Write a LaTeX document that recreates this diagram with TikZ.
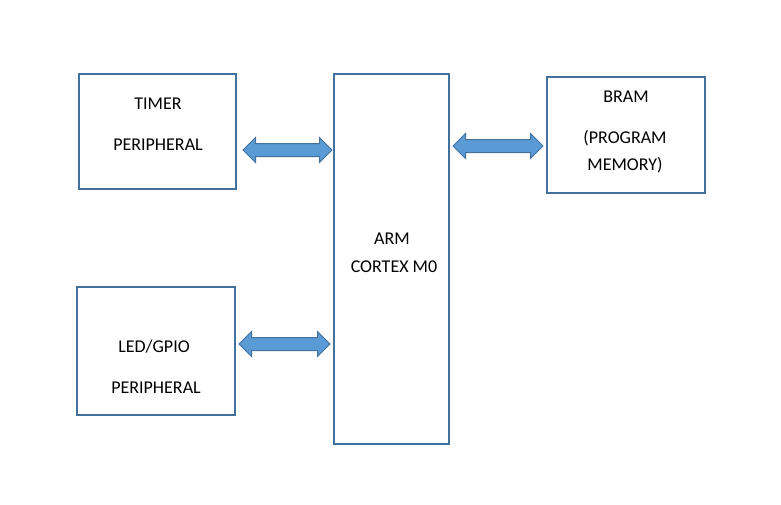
\documentclass[tikz,border=0pt]{standalone}
\usepackage{fontspec}
\setmainfont{Carlito}
\usetikzlibrary{shapes.arrows,calc}
\definecolor{boxline}{RGB}{65,113,156}
\definecolor{arrfill}{RGB}{91,155,213}
\tikzset{
  blk/.style={draw=boxline, line width=0.9pt, rectangle, inner sep=0pt},
  dblarrow/.style={double arrow, draw=boxline, fill=arrfill, line width=0.75pt, inner xsep=0pt, inner ysep=4.5pt,
    minimum width=18pt, double arrow head extend=4.5pt, double arrow tip angle=90},
  lbl/.style={font=\fontsize{13.5}{15}\selectfont, inner sep=0pt, text height=8.7pt, text depth=0pt}
}
\begin{document}
\begin{tikzpicture}[x=0.75pt,y=0.75pt,yscale=-1,xscale=1]
\useasboundingbox (0,0) rectangle (781,504);

%Shape: Rectangle [timer]
\node[blk, minimum width=117.75pt, minimum height=86.25pt] (timer) at (157.5,131.5) {};
%Shape: Rectangle [arm]
\node[blk, minimum width=86.25pt, minimum height=277.5pt] (arm) at (391.5,259) {};
%Shape: Rectangle [bram]
\node[blk, minimum width=118.5pt, minimum height=87pt] (bram) at (626,135) {};
%Shape: Rectangle [gpio]
\node[blk, minimum width=118.5pt, minimum height=96pt] (gpio) at (156,351) {};

%Shape: Double Arrow [timer - arm]
\node[dblarrow, minimum height=66.75pt] (timerArm) at ($(timer.east |- 0,150)!0.5!(arm.west |- 0,150)+(2.5,0)$) {};
%Shape: Double Arrow [arm - bram]
\node[dblarrow, minimum height=67.5pt] (armBram) at ($(arm.east |- 0,146)!0.5!(bram.west |- 0,146)$) {};
%Shape: Double Arrow [gpio - arm]
\node[dblarrow, minimum height=68.25pt] (gpioArm) at ($(gpio.east |- 0,344)!0.5!(arm.west |- 0,344)$) {};

% Text Node
\node[lbl] (timerA) at (158,104) {TIMER};
% Text Node
\node[lbl] (timerB) at (158,145) {PERIPHERAL};
% Text Node
\node[lbl] (armA) at (392,239) {ARM};
% Text Node
\node[lbl] (armB) at (394,267) {CORTEX M0};
% Text Node
\node[lbl] (bramA) at (626,97) {BRAM};
% Text Node
\node[lbl] (bramB) at (625,138) {(PROGRAM};
% Text Node
\node[lbl] (bramC) at (625,165) {MEMORY)};
% Text Node
\node[lbl] (gpioA) at (154,347) {LED/GPIO};
% Text Node
\node[lbl] (gpioB) at (156,388) {PERIPHERAL};

\end{tikzpicture}
\end{document}
